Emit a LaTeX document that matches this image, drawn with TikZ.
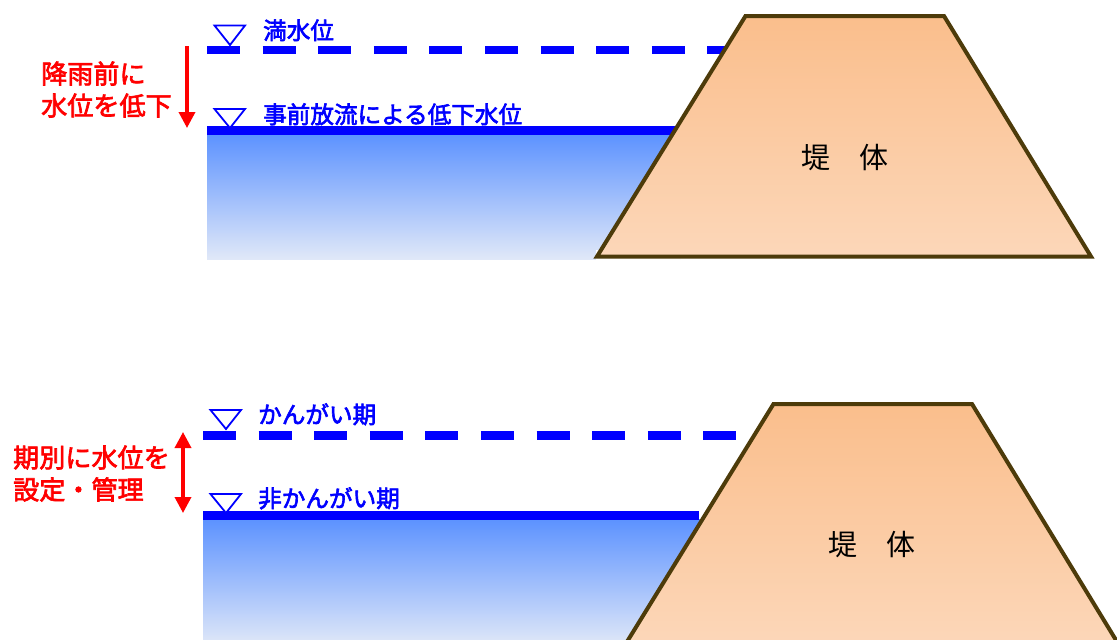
\documentclass[tikz,border=0pt]{standalone}
\usepackage{fontspec}
\setmainfont{Noto Sans CJK JP}
\newfontfamily\labfont[FakeBold=2.6]{Noto Sans CJK JP}
\usetikzlibrary{arrows.meta}
\definecolor{wb}{RGB}{0,0,255}
\definecolor{damline}{RGB}{77,59,10}
\tikzset{
  waterfill/.style={top color={rgb,255:red,92;green,146;blue,255},bottom color={rgb,255:red,224;green,232;blue,248},draw=none},
  damfill/.style={top color={rgb,255:red,250;green,190;blue,140},bottom color={rgb,255:red,252;green,215;blue,185},draw=damline,line width=4pt,line join=miter},
  levelsolid/.style={draw=wb,line width=8.5pt},
  leveldash/.style={draw=wb,line width=8.5pt,dash pattern=on 33pt off 22.6pt},
  marktri/.style={draw=wb,line width=1.8pt,fill=white,line join=miter},
  bluelabel/.style={text=wb,font=\fontsize{23.6}{26}\labfont,anchor=west,inner sep=0pt},
  redlabel/.style={text=red,font=\fontsize{26.1}{32}\labfont,anchor=west,inner sep=0pt},
  damlabel/.style={text=black,font=\fontsize{29}{32}\selectfont,inner sep=0pt},
  redarrow/.style={draw=red,line width=3.5pt}
}
\begin{document}
\begin{tikzpicture}[x=1pt,y=-1pt]
\useasboundingbox (0,0) rectangle (1117,640);
\clip (0,0) rectangle (1117,640);
% upper diagram
\path[waterfill] (207,134) -- (680,134) -- (680,259) -- (207,259) -- cycle;
\draw[levelsolid] (207,130.5) -- (680,130.5);
\draw[leveldash] (207,50) -- (730,50);
\draw[marktri] (214.5,25.5) -- (245,25.5) -- (230,45) -- cycle;
\draw[marktri] (214.5,109) -- (245,109) -- (230,128) -- cycle;
\fill[white] (596,259.5) -- (680,259.5) -- (680,250) -- (596,250) -- cycle;
\path[damfill] (745.5,16) -- (944,16) -- (1091,256.5) -- (597,256.5) -- cycle;
\node[bluelabel] (fulltxt) at (263,30.3) {満水位};
\node[bluelabel] (pretxt) at (263,114.3) {事前放流による低下水位};
\node[redlabel] (rain1) at (41,73.5) {降雨前に};
\node[redlabel] (rain2) at (41,105.5) {水位を低下};
\node[damlabel] (body1) at (845,158) {堤　体};
\coordinate (a1) at (187,46);
\coordinate (a2) at (187,128);
\draw[redarrow,-{Triangle[length=16pt,width=16pt]}] (a1) -- (a2);
% lower diagram
\path[waterfill] (203,519) -- (710,519) -- (710,645) -- (203,645) -- cycle;
\draw[levelsolid] (203,515.5) -- (699,515.5);
\draw[leveldash] (203,435.5) -- (736,435.5);
\draw[marktri] (210.5,410) -- (241,410) -- (226,429) -- cycle;
\draw[marktri] (210.5,494) -- (241,494) -- (226,513) -- cycle;
\path[damfill] (773.5,404) -- (972,404) -- (1119,645) -- (625,645) -- cycle;
\node[bluelabel] (irr) at (258,414.3) {かんがい期};
\node[bluelabel] (nonirr) at (258,498.3) {非かんがい期};
\node[redlabel] (per1) at (13,457.5) {期別に水位を};
\node[redlabel] (per2) at (13,489.5) {設定・管理};
\node[damlabel] (body2) at (872,545) {堤　体};
\coordinate (b1) at (183,432);
\coordinate (b2) at (183,513);
\draw[redarrow,{Triangle[length=16pt,width=16pt]}-{Triangle[length=16pt,width=16pt]}] (b1) -- (b2);
\end{tikzpicture}
\end{document}
